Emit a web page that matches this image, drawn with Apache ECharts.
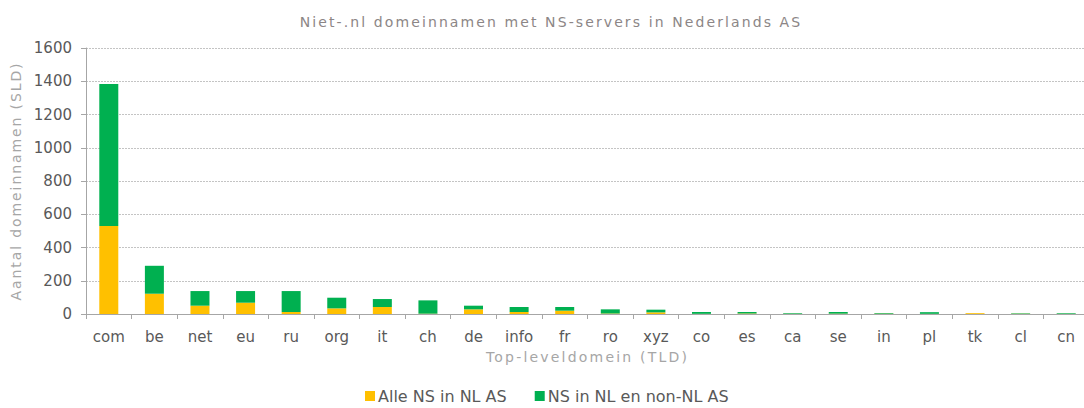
<!DOCTYPE html>
<html>
<head>
<meta charset="utf-8">
<script src="https://cdn.jsdelivr.net/npm/echarts@6/dist/echarts.min.js"></script>
<style>
  html, body { margin: 0; padding: 0; background: #fff; }
  #chart { width: 1084px; height: 408px; }
</style>
</head>
<body>
<div id="chart"></div>
<script>
  // TLD categories
  var tlds = ['com', 'be', 'net', 'eu', 'ru', 'org', 'it', 'ch', 'de', 'info', 'fr',
              'ro', 'xyz', 'co', 'es', 'ca', 'se', 'in', 'pl', 'tk', 'cl', 'cn'];
  // alle NS in NL AS
  var alleNL = [530, 122, 50, 68, 12, 34, 42, 2, 28, 12, 20, 3, 10, 1, 3, 1, 2, 2, 1, 5, 1, 1];
  // NS in NL en non-NL AS
  var nlNonNL = [853, 168, 88, 70, 126, 64, 48, 80, 22, 30, 22, 25, 16, 11, 9, 4, 10, 4, 10, 0, 4, 4];

  var titleText = 'Niet-.nl domeinnamen met NS-servers in Nederlands AS';
  var xName = 'Top-leveldomein (TLD)';
  var yName = 'Aantal domeinnamen (SLD)';

  var txt = '#595959';
  var font = 'DejaVu Sans';

  var chart = echarts.init(document.getElementById('chart'), null, { renderer: 'svg' });
  chart.setOption({
    animation: false,
    color: ['#FFC000', '#00B050'],
    title: {
      text: titleText,
      left: 546,
      textAlign: 'center',
      top: 10,
      textStyle: { color: '#8c8686', fontSize: 14, fontWeight: 'normal', fontFamily: font }
    },
    grid: { left: 86, right: -5, top: 48, bottom: 94, containLabel: false, outerBoundsMode: 'none' },
    legend: {
      top: 388,
      left: 365,
      padding: 0,
      itemWidth: 10,
      itemHeight: 10,
      itemGap: 28,
      icon: 'rect',
      textStyle: { color: txt, fontSize: 16, fontFamily: font, padding: [0, 0, 0, -2] },
      data: ['Alle NS in NL AS', 'NS in NL en non-NL AS']
    },
    xAxis: {
      type: 'category',
      data: tlds,
      name: xName,
      nameLocation: 'middle',
      nameGap: 36,
      nameTextStyle: { color: '#a6a6a6', fontSize: 14, fontFamily: font },
      axisLine: { lineStyle: { color: '#a6a6a6', width: 1 } },
      axisTick: { show: true, length: 5, lineStyle: { color: '#a6a6a6' } },
      axisLabel: { color: txt, fontSize: 15, fontFamily: font, margin: 15, interval: 0 }
    },
    yAxis: {
      type: 'value',
      min: 0,
      max: 1600,
      interval: 200,
      name: yName,
      nameLocation: 'middle',
      nameGap: 60,
      nameTextStyle: { color: '#a6a6a6', fontSize: 14, fontFamily: font },
      axisLine: { show: true, lineStyle: { color: '#a6a6a6', width: 1 } },
      axisTick: { show: true, length: 5, lineStyle: { color: '#a6a6a6' } },
      axisLabel: {
        color: txt, fontSize: 15, fontFamily: font, margin: 14,
        formatter: function (v) { return String(v); }
      },
      splitLine: { lineStyle: { color: '#c4c4c4', type: [2, 1] } }
    },
    series: [
      {
        name: 'Alle NS in NL AS',
        type: 'bar',
        stack: 'tot',
        barWidth: 19,
        data: alleNL
      },
      {
        name: 'NS in NL en non-NL AS',
        type: 'bar',
        stack: 'tot',
        barWidth: 19,
        data: nlNonNL
      }
    ]
  });

  // title and axis names are letter-spaced in the original
  function spaceOut() {
    var spaced = {};
    spaced[titleText] = '2.1px';
    spaced[xName] = '2.2px';
    spaced[yName] = '1.9px';
    var nodes = document.querySelectorAll('#chart svg text');
    for (var i = 0; i < nodes.length; i++) {
      var s = spaced[nodes[i].textContent];
      if (s) {
        nodes[i].style.letterSpacing = s;
      }
    }
  }
  spaceOut();
  chart.on('finished', spaceOut);
</script>
</body>
</html>
